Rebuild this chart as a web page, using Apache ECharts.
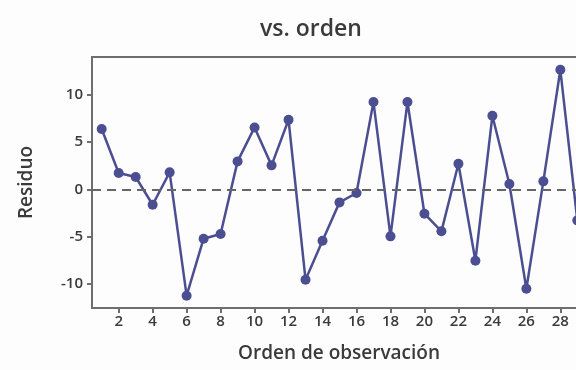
<!DOCTYPE html>
<html>
<head>
<meta charset="utf-8">
<script src="https://cdn.jsdelivr.net/npm/echarts@6/dist/echarts.min.js"></script>
<style>
html,body{margin:0;padding:0;background:#fdfdfd;}
#chart{width:576px;height:370px;}
</style>
</head>
<body>
<div id="chart"></div>
<script>
var orden = [1,2,3,4,5,6,7,8,9,10,11,12,13,14,15,16,17,18,19,20,21,22,23,24,25,26,27,28,29];
var residuo = [6.37,1.72,1.30,-1.63,1.79,-11.24,-5.22,-4.72,2.95,6.54,2.53,7.35,-9.55,-5.43,-1.38,-0.39,9.22,-4.97,9.22,-2.58,-4.44,2.70,-7.54,7.77,0.56,-10.50,0.84,12.63,-3.28];
var xTicks = [2,4,6,8,10,12,14,16,18,20,22,24,26,28];
var yTicks = [-10,-5,0,5,10];

var data = orden.map(function(o,i){return [o, residuo[i]];});
var font = '"Open Sans", "Noto Sans", sans-serif';
var chart = echarts.init(document.getElementById('chart'));
chart.setOption({
  backgroundColor:'#fdfdfd',
  animation:false,
  title:{
    text:'vs. orden', left:306, top:13, textAlign:'center',
    textStyle:{fontFamily:font, fontSize:23, fontWeight:600, color:'#3a3a3a'}
  },
  grid:{left:92, top:57, bottom:62, right:-28, outerBoundsMode:'none', containLabel:false, show:true, borderColor:'#6e6e6e', borderWidth:2, backgroundColor:'transparent'},
  xAxis:{
    type:'value', min:0.43, max:30.57,
    name:'Orden de observación', nameLocation:'middle', nameGap:36,
    nameTextStyle:{fontFamily:font, fontSize:19, fontWeight:600, color:'#3a3a3a', padding:[0,18,0,0]},
    axisLine:{show:true, onZero:false, lineStyle:{color:'#6e6e6e', width:2}},
    axisTick:{show:true, length:5, customValues:xTicks, lineStyle:{color:'#6e6e6e', width:2}},
    axisLabel:{customValues:xTicks, fontFamily:font, fontSize:15, fontWeight:600, color:'#3a3a3a', margin:6},
    splitLine:{show:false}
  },
  yAxis:{
    type:'value', min:-12.54, max:13.98,
    name:'Residuo', nameLocation:'middle', nameGap:56, nameRotate:90,
    nameTextStyle:{fontFamily:font, fontSize:19, fontWeight:600, color:'#3a3a3a'},
    axisLine:{show:true, onZero:false, lineStyle:{color:'#6e6e6e', width:2}},
    axisTick:{show:true, length:5, customValues:yTicks, lineStyle:{color:'#6e6e6e', width:2}},
    axisLabel:{customValues:yTicks, fontFamily:font, fontSize:15, fontWeight:600, color:'#3a3a3a', margin:9},
    splitLine:{show:false}
  },
  series:[{
    type:'line', data:data,
    symbol:'circle', symbolSize:10,
    lineStyle:{color:'#4b4e91', width:2.5},
    itemStyle:{color:'#4b4e91'},
    markLine:{
      silent:true, symbol:'none', label:{show:false},
      lineStyle:{color:'#666666', type:[9,6], width:2},
      data:[{yAxis:0}]
    }
  }]
});
</script>
</body>
</html>
